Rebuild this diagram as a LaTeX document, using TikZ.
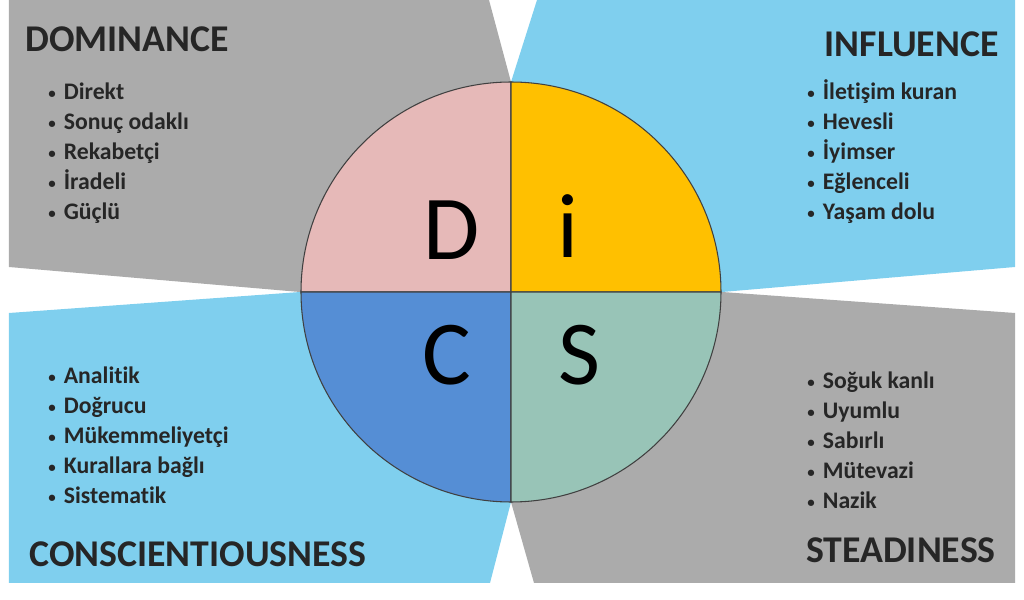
\documentclass[tikz,border=0pt]{standalone}
\usepackage{fontspec}
\setmainfont{Carlito}[Ligatures=NoCommon]
\usepackage{tikz}
\definecolor{CGR}{RGB}{171,171,171}
\definecolor{CSKY}{RGB}{127,207,238}
\definecolor{CDOM}{RGB}{230,185,184}
\definecolor{CINF}{RGB}{255,192,0}
\definecolor{CCON}{RGB}{85,142,213}
\definecolor{CSTE}{RGB}{152,196,183}
\definecolor{CTXT}{RGB}{38,38,38}
\definecolor{CLIN}{RGB}{64,64,64}
\newcommand{\dbul}{\raisebox{0.9pt}{\fontsize{8.5}{8.5}\selectfont •}\hspace{4.6pt}}

\begin{document}
\begin{tikzpicture}[
  head/.style={font=\fontsize{21.5}{21.5}\selectfont\bfseries,text=CTXT,inner sep=0pt},
  itm/.style={font=\fontsize{13.5}{16}\selectfont\bfseries,text=CTXT,inner sep=0pt,anchor=base west},
  ltr/.style={font=\fontsize{52}{52}\selectfont,text=black,inner sep=0pt,anchor=base}]
  \useasboundingbox (0.0000cm,0.0000cm) rectangle (20.4800cm,12.0000cm);
  % background panels
  \fill[CGR] (0.1800cm,12.0000cm) -- (9.7800cm,12.0000cm) -- (10.2200cm,10.3600cm) -- (10.2200cm,6.1600cm) -- (6.0000cm,6.1600cm) -- (0.1800cm,6.6600cm) -- cycle;
  \fill[CSKY] (10.7400cm,12.0000cm) -- (20.3000cm,12.0000cm) -- (20.3000cm,6.6600cm) -- (14.4400cm,6.1600cm) -- (10.2200cm,6.1600cm) -- (10.2200cm,10.3600cm) -- cycle;
  \fill[CSKY] (0.1800cm,5.7400cm) -- (6.0000cm,6.1600cm) -- (10.2200cm,6.1600cm) -- (10.2200cm,1.9600cm) -- (9.8000cm,0.3400cm) -- (0.1800cm,0.3400cm) -- cycle;
  \fill[CGR] (14.4400cm,6.1600cm) -- (20.3000cm,5.7400cm) -- (20.3000cm,0.3400cm) -- (10.6800cm,0.3400cm) -- (10.2200cm,1.9600cm) -- (10.2200cm,6.1600cm) -- cycle;
  % circle quadrants
  \coordinate (ctr) at (10.2200cm,6.1600cm);
  \filldraw[fill=CDOM,draw=CLIN,line width=0.6pt] (ctr) -- ++(0cm,4.2000cm) arc[start angle=90,end angle=180,radius=4.2000cm] -- cycle;
  \filldraw[fill=CINF,draw=CLIN,line width=0.6pt] (ctr) -- ++(4.2000cm,0cm) arc[start angle=0,end angle=90,radius=4.2000cm] -- cycle;
  \filldraw[fill=CCON,draw=CLIN,line width=0.6pt] (ctr) -- ++(-4.2000cm,0cm) arc[start angle=180,end angle=270,radius=4.2000cm] -- cycle;
  \filldraw[fill=CSTE,draw=CLIN,line width=0.6pt] (ctr) -- ++(0cm,-4.2000cm) arc[start angle=270,end angle=360,radius=4.2000cm] -- cycle;
  \node[ltr] (lD) at (9.0400cm,6.8000cm) {D};
  \node[ltr] (lI) at (11.3600cm,6.8400cm) {i};
  \node[ltr] (lC) at (8.9400cm,4.3000cm) {C};
  \node[ltr] (lS) at (11.5800cm,4.3000cm) {S};
  % headings
  \node[head,anchor=base west] (dom) at (0.5000cm,10.9600cm) {DOMINANCE};
  \node[head,anchor=base east] (inf) at (19.9800cm,10.8600cm) {INFLUENCE};
  \node[head,anchor=base west] (con) at (0.5800cm,0.6600cm) {CONSCIENTIOUSNESS};
  \node[head,anchor=base east] (ste) at (19.9200cm,0.7400cm) {STEADINESS};
  % lists
  \node[itm] (d1) at (0.9600cm,10.0000cm) {\dbul Direkt};
  \node[itm] (d2) at (0.9600cm,9.4000cm) {\dbul Sonuç odaklı};
  \node[itm] (d3) at (0.9600cm,8.8000cm) {\dbul Rekabetçi};
  \node[itm] (d4) at (0.9600cm,8.2000cm) {\dbul İradeli};
  \node[itm] (d5) at (0.9600cm,7.6000cm) {\dbul Güçlü};
  \node[itm] (i1) at (16.1400cm,10.0000cm) {\dbul İletişim kuran};
  \node[itm] (i2) at (16.1400cm,9.4000cm) {\dbul Hevesli};
  \node[itm] (i3) at (16.1400cm,8.8000cm) {\dbul İyimser};
  \node[itm] (i4) at (16.1400cm,8.2000cm) {\dbul Eğlenceli};
  \node[itm] (i5) at (16.1400cm,7.6000cm) {\dbul Yaşam dolu};
  \node[itm] (c1) at (0.9600cm,4.3200cm) {\dbul Analitik};
  \node[itm] (c2) at (0.9600cm,3.7200cm) {\dbul Doğrucu};
  \node[itm] (c3) at (0.9600cm,3.1200cm) {\dbul Mükemmeliyetçi};
  \node[itm] (c4) at (0.9600cm,2.5200cm) {\dbul Kurallara bağlı};
  \node[itm] (c5) at (0.9600cm,1.9200cm) {\dbul Sistematik};
  \node[itm] (s1) at (16.1400cm,4.2200cm) {\dbul Soğuk kanlı};
  \node[itm] (s2) at (16.1400cm,3.6200cm) {\dbul Uyumlu};
  \node[itm] (s3) at (16.1400cm,3.0200cm) {\dbul Sabırlı};
  \node[itm] (s4) at (16.1400cm,2.4200cm) {\dbul Mütevazi};
  \node[itm] (s5) at (16.1400cm,1.8200cm) {\dbul Nazik};
\end{tikzpicture}
\end{document}
